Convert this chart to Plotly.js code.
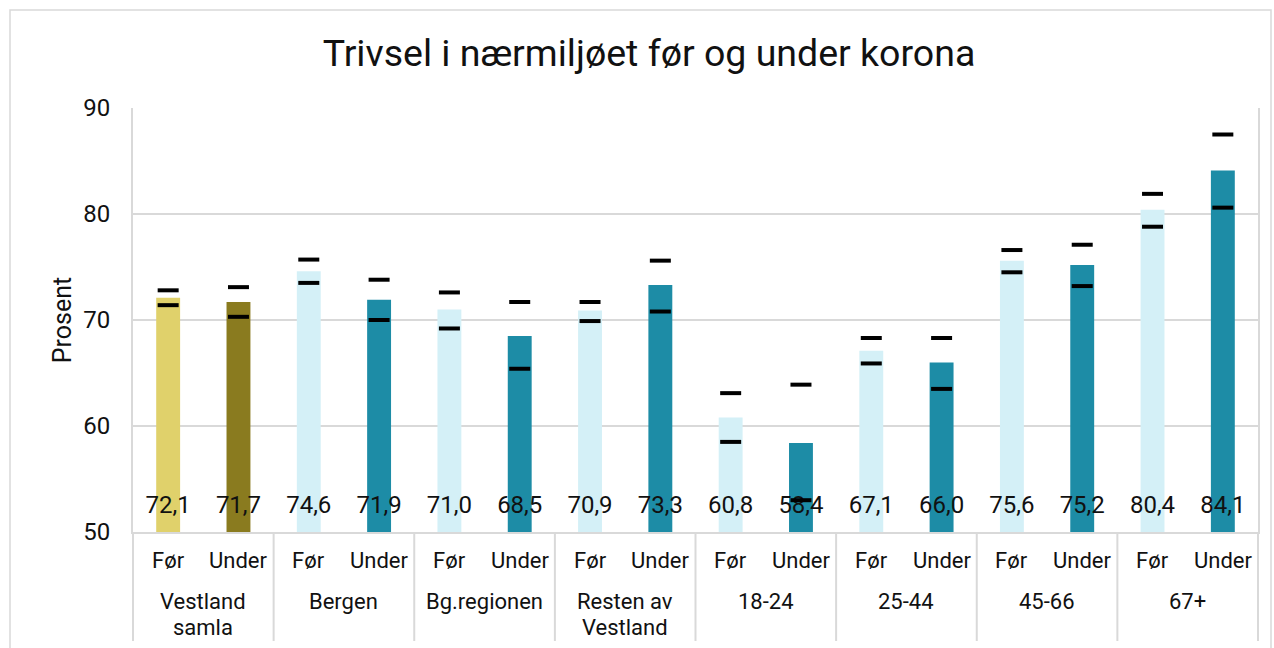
<!DOCTYPE html>
<html>
<head>
<meta charset="utf-8">
<script src="https://cdn.plot.ly/plotly-3.0.1.min.js"></script>
<style>
  html, body { margin: 0; padding: 0; background: #fff; }
  #chart { width: 1274px; height: 648px; }
</style>
</head>
<body>
<div id="chart"></div>
<script>
const groups = ['Vestland<br>samla', 'Bergen', 'Bg.regionen', 'Resten av<br>Vestland', '18-24', '25-44', '45-66', '67+'];
const periods = ['Før', 'Under'];
const values = [72.1, 71.7, 74.6, 71.9, 71.0, 68.5, 70.9, 73.3, 60.8, 58.4, 67.1, 66.0, 75.6, 75.2, 80.4, 84.1];
const upper  = [72.8, 73.1, 75.7, 73.8, 72.6, 71.7, 71.7, 75.6, 63.1, 63.9, 68.3, 68.3, 76.6, 77.1, 81.9, 87.5];
const lower  = [71.4, 70.3, 73.5, 70.0, 69.2, 65.4, 69.9, 70.8, 58.5, 53.0, 65.9, 63.5, 74.5, 73.2, 78.8, 80.6];

const xGroup = [], xSub = [], colors = [];
groups.forEach((g, gi) => {
  periods.forEach((p, pi) => {
    xGroup.push(g);
    xSub.push(p);
    if (gi === 0) colors.push(pi === 0 ? '#E0D16B' : '#8A7B1F');
    else colors.push(pi === 0 ? '#D4F0F7' : '#1D8CA6');
  });
});
const x = [xGroup, xSub];
const nSlots = xSub.length;
const yMin = 50, yMax = 90;
const fmt = v => v.toFixed(1).replace('.', ',');

// plot-area geometry (px) used only to place axis label rows
const L = 133, R = 16, T = 108, B = 116, W = 1274, H = 648;
const plotH = H - T - B;
const pyToPaper = py => (H - B - py) / plotH;
const pxToPaper = px => (px - L) / (W - L - R);

const dashMarker = { symbol: 'line-ew-open', size: 15, color: '#000', line: { width: 4, color: '#000' } };

const traces = [
  {
    type: 'bar', x: x, y: values,
    marker: { color: colors },
    hoverinfo: 'y', showlegend: false
  },
  {
    type: 'scatter', mode: 'text', x: x,
    y: values.map(() => yMin + 2.35),
    text: values.map(fmt),
    textposition: 'middle center',
    textfont: { family: 'Roboto', size: 24, color: '#111' },
    hoverinfo: 'skip', showlegend: false, cliponaxis: false
  },
  { type: 'scatter', mode: 'markers', x: x, y: upper, marker: dashMarker, showlegend: false },
  { type: 'scatter', mode: 'markers', x: x, y: lower, marker: dashMarker, showlegend: false }
];

const labelFont = { family: 'Roboto', size: 22, color: '#111' };
const annotations = [];
xSub.forEach((s, i) => {
  annotations.push({
    xref: 'paper', yref: 'paper', x: (i + 0.5) / nSlots, y: pyToPaper(560),
    text: s, showarrow: false, xanchor: 'center', yanchor: 'middle', font: labelFont
  });
});
groups.forEach((g, gi) => {
  g.split('<br>').forEach((line, li) => {
    annotations.push({
      xref: 'paper', yref: 'paper', x: (gi + 0.5) / groups.length, y: pyToPaper(601 + 26 * li),
      text: line, showarrow: false, xanchor: 'center', yanchor: 'middle', font: labelFont
    });
  });
});

const shapes = [
  { type: 'rect', xref: 'paper', yref: 'paper',
    x0: pxToPaper(10), x1: pxToPaper(1271), y0: pyToPaper(670), y1: pyToPaper(10),
    line: { color: '#d9d9d9', width: 1.5 }, fillcolor: 'rgba(0,0,0,0)', layer: 'below' }
];
for (let gi = 0; gi <= groups.length; gi++) {
  shapes.push({ type: 'line', xref: 'paper', yref: 'paper',
    x0: gi / groups.length, x1: gi / groups.length, y0: pyToPaper(641), y1: 0,
    line: { color: '#d9d9d9', width: 2 } });
}

const layout = {
  width: W, height: H,
  margin: { l: L, r: R, t: T, b: B },
  paper_bgcolor: '#fff', plot_bgcolor: '#fff',
  font: { family: 'Roboto', color: '#111' },
  title: {
    text: 'Trivsel i nærmiljøet før og under korona',
    font: { family: 'Roboto', size: 37.5, color: '#111' },
    x: 649 / W, xanchor: 'center', y: 1 - 53 / H, yanchor: 'middle'
  },
  bargap: 0.66,
  xaxis: {
    type: 'multicategory', range: [-0.5, nSlots - 0.5],
    showline: true, linecolor: '#d9d9d9', linewidth: 2,
    showdividers: false, showticklabels: false,
    ticks: '', showgrid: false
  },
  yaxis: {
    range: [yMin, yMax], dtick: 10, tick0: 50,
    showgrid: true, gridcolor: '#d9d9d9', gridwidth: 2,
    showline: true, linecolor: '#d9d9d9', linewidth: 2, mirror: true,
    zeroline: false,
    tickfont: { family: 'Roboto', size: 24, color: '#111' },
    ticks: 'outside', ticklen: 16, tickcolor: 'rgba(0,0,0,0)',
    title: { text: 'Prosent', font: { family: 'Roboto', size: 25, color: '#111' }, standoff: 4 }
  },
  annotations: annotations,
  shapes: shapes
};

Plotly.newPlot('chart', traces, layout, { displayModeBar: false, staticPlot: true });
</script>
</body>
</html>
